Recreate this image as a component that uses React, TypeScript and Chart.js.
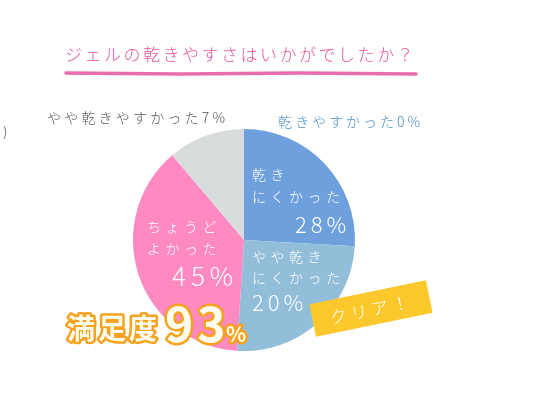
import { useEffect, useRef } from 'react';
import Chart from 'chart.js/auto';

// categories in clockwise order from 12 o'clock
const categories = ['乾きやすかった', '乾きにくかった', 'やや乾きにくかった', 'ちょうどよかった', 'やや乾きやすかった'];
// percentages printed on the chart
const percents = [0, 28, 20, 45, 7];
// arc sizes as they are drawn in the picture (the artwork is not to scale)
const sliceShares = [0, 25.9, 25.1, 37.8, 11.2];
const sliceColors = ['#6fa0de', '#6fa0de', '#92bed9', '#ff89c1', '#d9dcdd'];
// two-line captions inside the slices
const insideLines = [[], ['乾き', 'にくかった'], ['やや乾き', 'にくかった'], ['ちょうど', 'よかった'], []];

const titleText = 'ジェルの乾きやすさはいかがでしたか？';
const satisfactionLabel = '満足度';
const satisfactionValue = percents[1] + percents[2] + percents[3];
const badgeText = 'クリア！';

const FONT = '"Noto Sans CJK JP", "Noto Sans", sans-serif';

const overlayPlugin = {
  id: 'overlay',
  afterDraw(chart: Chart) {
    const ctx = chart.ctx as CanvasRenderingContext2D & { letterSpacing: string };
    const arcs = chart.getDatasetMeta(0).data;
    const cx = arcs[1].x;
    const cy = arcs[1].y;

    const text = (s: string, x: number, y: number, font: string, color: string, spacing: number, align: CanvasTextAlign = 'left', baseline: CanvasTextBaseline = 'middle') => {
      ctx.font = font;
      ctx.fillStyle = color;
      ctx.letterSpacing = spacing + 'px';
      ctx.textAlign = align;
      ctx.textBaseline = baseline;
      ctx.fillText(s, x, y);
    };

    ctx.save();

    // title + brush underline
    text(titleText, 65, 55, `300 17px ${FONT}`, '#e4569e', 2.5);
    ctx.strokeStyle = '#ea6dab';
    ctx.lineWidth = 3.5;
    ctx.lineCap = 'round';
    ctx.beginPath();
    ctx.moveTo(66, 73);
    ctx.lineTo(180, 74);
    ctx.lineTo(300, 73);
    ctx.lineTo(416, 74);
    ctx.stroke();

    // stray bracket on the left
    text(')', 3, 132, `13px ${FONT}`, '#777', 0);

    // outside labels
    text(`${categories[4]}${percents[4]}%`, 47, 118, `300 14px ${FONT}`, '#555', 3.2);
    text(`${categories[0]}${percents[0]}%`, 278, 122, `300 14px ${FONT}`, '#4a8fc2', 3);

    // inside labels
    const small = `300 14px ${FONT}`;
    text(insideLines[1][0], cx + 8, cy - 65, small, '#fff', 4.5);
    text(insideLines[1][1], cx + 8, cy - 43, small, '#fff', 4.5);
    text(`${percents[1]}%`, cx + 51, cy - 15, `300 22px ${FONT}`, '#fff', 4);

    text(insideLines[2][0], cx + 8, cy + 17, small, '#fff', 4.5);
    text(insideLines[2][1], cx + 8, cy + 38, small, '#fff', 4.5);
    text(`${percents[2]}%`, cx + 8, cy + 63, `300 22px ${FONT}`, '#fff', 4);

    text(insideLines[3][0], cx - 97, cy - 13, small, '#fff', 4.5);
    text(insideLines[3][1], cx - 97, cy + 9, small, '#fff', 4.5);
    text(`${percents[3]}%`, cx - 72, cy + 36, `300 26px ${FONT}`, '#fff', 5);

    // badge
    ctx.save();
    ctx.translate(371, 308.5);
    ctx.rotate((-11.6 * Math.PI) / 180);
    ctx.fillStyle = '#fcc82c';
    ctx.fillRect(-59.5, -16.5, 119, 33);
    text(badgeText, 0, 1, `300 17px ${FONT}`, '#fff', 4, 'center');
    ctx.restore();

    // satisfaction headline
    const outlined = (s: string, x: number, y: number, font: string, spacing: number) => {
      ctx.font = font;
      ctx.letterSpacing = spacing + 'px';
      ctx.textAlign = 'left';
      ctx.textBaseline = 'alphabetic';
      ctx.lineJoin = 'round';
      ctx.lineWidth = 5;
      ctx.strokeStyle = '#f6a21f';
      ctx.strokeText(s, x, y);
      ctx.fillStyle = '#fffdf0';
      ctx.fillText(s, x, y);
    };
    outlined(satisfactionLabel, 67, 339, `bold 28px ${FONT}`, 3);
    const digits = String(satisfactionValue);
    outlined(digits, 165, 342, `bold 48px ${FONT}`, 4);
    outlined('%', 226, 342, `bold 21px ${FONT}`, 0);

    ctx.restore();
  },
};

const App: React.FC = () => {
  const chartRef = useRef<HTMLCanvasElement | null>(null);
  const chartInstance = useRef<Chart | null>(null);

  useEffect(() => {
    if (!chartRef.current) return;
    if (chartInstance.current) chartInstance.current.destroy();

    chartInstance.current = new Chart(chartRef.current, {
      type: 'pie',
      data: {
        labels: categories,
        datasets: [
          {
            data: sliceShares,
            backgroundColor: sliceColors,
            borderWidth: 0,
          },
        ],
      },
      options: {
        animation: false,
        responsive: true,
        maintainAspectRatio: false,
        layout: { padding: { left: 133, top: 129, right: 195, bottom: 60 } },
        plugins: {
          legend: { display: false },
          tooltip: { enabled: false },
        },
      },
      plugins: [overlayPlugin],
    });
    // Cleanup
    return () => {
      chartInstance.current?.destroy();
    };
  }, []);

  return (
    <div style={{ position: 'fixed', left: 0, top: 0, width: 550, height: 411, background: '#fff' }}>
      <canvas ref={chartRef} />
    </div>
  );
};

export default App;
